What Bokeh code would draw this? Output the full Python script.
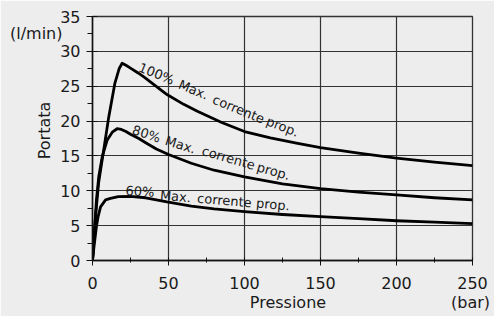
import math
from bokeh.plotting import figure
from bokeh.models import Range1d, SingleIntervalTicker, FixedTicker, LinearAxis, Label
from bokeh.embed import file_html
from bokeh.resources import INLINE

# ---- data ----
pressure_100 = [0, 1, 2, 4, 7.4, 10.7, 14.7, 17.5, 19.5, 22, 25, 30, 34, 40, 49, 60, 69, 85, 100, 117, 135, 150, 175, 200, 225, 250]
flow_100 = [0, 3.2, 6.3, 11.1, 15.9, 20.6, 25.4, 27.5, 28.3, 28.0, 27.6, 26.9, 26.3, 25.3, 23.8, 22.4, 21.4, 19.8, 18.5, 17.6, 16.8, 16.2, 15.4, 14.7, 14.1, 13.6]

pressure_80 = [0, 1, 2.6, 4.1, 6.4, 9.7, 13, 16.2, 19, 22, 25, 30.5, 35, 42, 50, 65, 80, 100, 125, 150, 175, 200, 225, 250]
flow_80 = [0, 3.2, 8.7, 12.0, 14.9, 17.3, 18.4, 18.9, 18.8, 18.5, 18.1, 17.5, 16.9, 16.0, 15.2, 13.95, 12.95, 12.0, 11.0, 10.3, 9.8, 9.4, 9.0, 8.7]

pressure_60 = [0, 1, 2.6, 3.7, 5.3, 8.6, 11.8, 17, 25, 35, 49, 65, 80, 100, 125, 150, 175, 200, 225, 250]
flow_60 = [0, 2.0, 4.9, 6.3, 7.7, 8.7, 8.9, 9.15, 9.2, 9.0, 8.4, 7.8, 7.4, 7.0, 6.6, 6.3, 6.0, 5.7, 5.5, 5.3]

curve_names = ["100%", "80%", "60%"]
curve_words = ["Max.", "corrente", "prop."]

x_title, x_unit = "Pressione", "(bar)"
y_title, y_unit = "Portata", "(l/min)"

FONT = "DejaVu Sans"
AX_SIZE = "16px"
TXT = "#1a1a1a"
BG = "#ededed"

p = figure(width=494, height=316, output_backend="svg", toolbar_location=None,
           x_range=Range1d(0, 250), y_range=Range1d(0, 35),
           min_border_left=92, min_border_right=22, min_border_top=16, min_border_bottom=56)
p.background_fill_color = BG
p.border_fill_color = BG
p.outline_line_color = "#333333"
p.outline_line_width = 1.3

p.xaxis.ticker = SingleIntervalTicker(interval=50, num_minor_ticks=2)
p.yaxis.ticker = SingleIntervalTicker(interval=5, num_minor_ticks=2)

for ax in (p.xaxis, p.yaxis):
    ax.axis_line_color = "#111111"
    ax.axis_line_width = 1.5
    ax.major_tick_line_color = "#111111"
    ax.minor_tick_line_color = "#111111"
    ax.major_label_text_font = FONT
    ax.major_label_text_font_size = AX_SIZE
    ax.major_label_text_color = TXT

p.yaxis.major_tick_out = 6
p.yaxis.major_tick_in = 5
p.yaxis.minor_tick_out = 5
p.yaxis.minor_tick_in = 0
p.yaxis.major_label_standoff = 6

p.xaxis.major_tick_out = 5
p.xaxis.major_tick_in = 0
p.xaxis.minor_tick_out = 2
p.xaxis.minor_tick_in = 3
p.xaxis.major_label_standoff = 11

p.xgrid.grid_line_color = "#333333"
p.ygrid.grid_line_color = "#333333"
p.xgrid.grid_line_width = 1.2
p.ygrid.grid_line_width = 1.2


def text_axis(ticks, texts, standoff, orientation="horizontal"):
    ax = LinearAxis(ticker=FixedTicker(ticks=ticks, minor_ticks=[]),
                    major_label_overrides=dict(zip(ticks, texts)),
                    major_label_orientation=orientation)
    ax.axis_line_color = None
    ax.major_tick_line_color = None
    ax.minor_tick_line_color = None
    ax.major_tick_in = 0
    ax.major_tick_out = 0
    ax.minor_tick_in = 0
    ax.minor_tick_out = 0
    ax.major_label_standoff = standoff
    ax.major_label_text_font = FONT
    ax.major_label_text_font_size = AX_SIZE
    ax.major_label_text_color = TXT
    return ax


# axis title and units as text-only axes
p.add_layout(text_axis([18.65], [y_title], 3, "vertical"), "left")
p.add_layout(text_axis([32.5], [y_unit], -30), "left")
p.add_layout(text_axis([128.6, 248.7], [x_title, x_unit], 1), "below")

for xs, ys in ((pressure_100, flow_100), (pressure_80, flow_80), (pressure_60, flow_60)):
    p.line(xs, ys, line_color="#000000", line_width=2.8, line_join="round")

# curve annotations, word by word following the curves
label_specs = [
    # (words, x centres, y centres, angles in degrees)
    ([curve_names[0]] + curve_words, [42.1, 66.4, 96.1, 125.0], [26.8, 24.5, 21.7, 19.2], [-22, -22.5, -22.5, -21]),
    ([curve_names[1]] + curve_words, [35.5, 57.9, 89.5, 119.1], [18.15, 16.6, 14.7, 12.8], [-18, -17, -16, -16]),
    ([curve_names[2]] + curve_words, [31.25, 54.6, 86.8, 118.75], [9.9, 9.18, 8.6, 8.03], [-4, -5, -5, -5]),
]
for words, xs, ys, angs in label_specs:
    for w, x, y, a in zip(words, xs, ys, angs):
        p.add_layout(Label(x=x, y=y, text=w, angle=math.radians(a),
                           text_align="center", text_baseline="middle",
                           text_font=FONT, text_font_size="13px", text_color=TXT))

open("out.html", "w").write(file_html(p, INLINE))
